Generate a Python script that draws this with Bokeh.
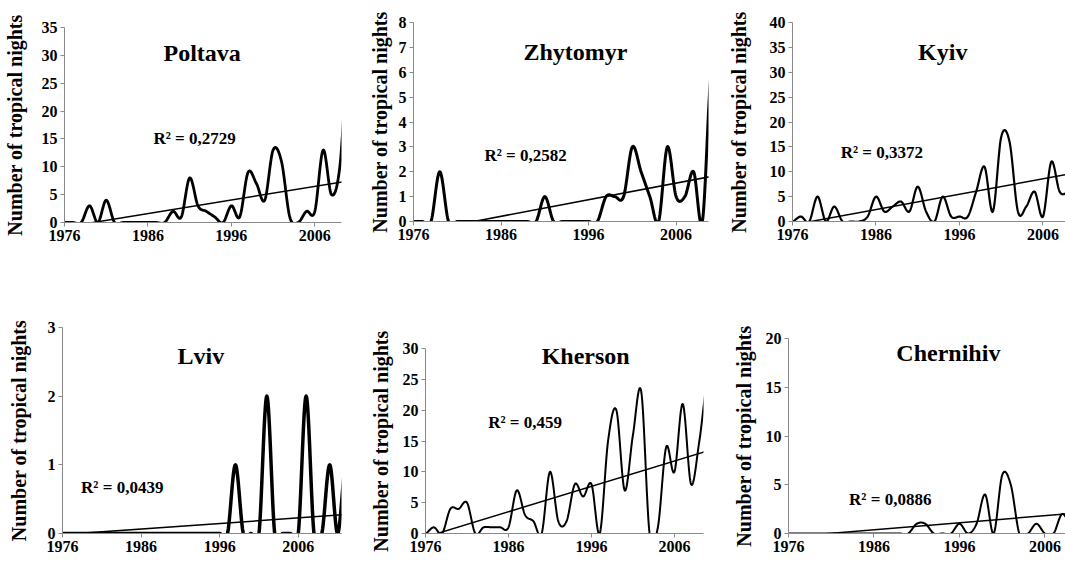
import numpy as np
from bokeh.plotting import figure
from bokeh.layouts import row, column
from bokeh.models import Range1d, FixedTicker, Label
from bokeh.embed import file_html
from bokeh.resources import INLINE

# ---------------- data ----------------
years = list(range(1976, 2011))
years_lviv = list(range(1976, 2013))

poltava = [0, 0, 0, 3, 0, 4, 0, 0, 0, 0, 0, 0, 0, 2, 1, 8, 3, 2, 1, 0,
           3, 1, 9, 7, 4, 13, 11, 1, 0, 2, 2, 13, 5, 10, 30]
zhytomyr = [0, 0, 0, 2, 0, 0, 0, 0, 0, 0, 0, 0, 0, 0, 0, 1, 0, 0, 0, 0,
            0, 0, 1, 1, 1, 3, 2, 1, 0, 3, 1, 1, 2, 0, 6]
kyiv = [0, 1, 0, 5, 0, 3, 0, 0, 0, 1, 5, 2, 3, 4, 2, 7, 2, 0, 5, 1,
        1, 1, 6, 11, 2, 17, 16, 2, 3, 6, 1, 12, 6, 6, 8]
lviv = [0, 0, 0, 0, 0, 0, 0, 0, 0, 0, 0, 0, 0, 0, 0, 0, 0, 0, 0, 0,
        0, 0, 1, 0, 0, 0, 2, 0, 0, 0, 0, 2, 0, 0, 1, 0, 1]
kherson = [0, 1, 0, 4, 4, 5, 0, 1, 1, 1, 1, 7, 3, 2, 0, 10, 2, 2, 8, 6,
           8, 0, 15, 20, 7, 16, 23, 0, 1, 14, 10, 21, 8, 15, 25]
chernihiv = [0, 0, 0, 0, 0, 0, 0, 0, 0, 0, 0, 0, 0, 0, 0, 1, 1, 0, 0, 0,
             1, 0, 1, 4, 0, 6, 5, 0, 0, 1, 0, 0, 2, 1, 2]

# linear trend values at first and last year
trend_poltava = [-0.84, 7.45]
trend_zhytomyr = [-0.46, 1.81]
trend_kyiv = [-0.68, 9.8]
trend_lviv = [-0.016, 0.276]
trend_kherson = [-0.58, 13.4]
trend_chernihiv = [-0.34, 2.12]

r2_labels = ["R\u00b2 = 0,2729", "R\u00b2 = 0,2582", "R\u00b2 = 0,3372",
             "R\u00b2 = 0,0439", "R\u00b2 = 0,459", "R\u00b2 = 0,0886"]
cities = ["Poltava", "Zhytomyr", "Kyiv", "Lviv", "Kherson", "Chernihiv"]
x_ticks = [1976, 1986, 1996, 2006]

FONT = "Liberation Serif"
AXIS_GREY = "#8a8a8a"


def smooth(xs, ys, n=20):
    """Catmull-Rom (Excel style) smoothing for drawing the line."""
    xs = np.asarray(xs, float)
    ys = np.asarray(ys, float)
    N = len(ys)
    m = np.zeros(N)
    m[1:-1] = (ys[2:] - ys[:-2]) / 2.0
    m[0] = (ys[1] - ys[0]) / 2.0
    m[-1] = (ys[-1] - ys[-2]) / 2.0
    t = np.linspace(0, 1, n, endpoint=False)
    h00 = 2 * t**3 - 3 * t**2 + 1
    h10 = t**3 - 2 * t**2 + t
    h01 = -2 * t**3 + 3 * t**2
    h11 = t**3 - t**2
    ox, oy = [], []
    for i in range(N - 1):
        ox.extend(xs[i] + t * (xs[i + 1] - xs[i]))
        oy.extend(h00 * ys[i] + h10 * m[i] + h01 * ys[i + 1] + h11 * m[i + 1])
    ox.append(xs[-1])
    oy.append(ys[-1])
    return ox, oy


def panel(idx, yrs, vals, trend, ymax, ystep, xend, w, h, bl, br, bt, bb,
          title_xy, r2_xy, lw, lab_standoff):
    p = figure(width=w, height=h, output_backend="svg", toolbar_location=None,
               x_range=Range1d(1976, xend), y_range=Range1d(0, ymax),
               min_border_left=bl, min_border_right=br,
               min_border_top=bt, min_border_bottom=bb)
    p.frame_align = False
    p.outline_line_color = None
    p.grid.visible = False
    p.background_fill_color = "white"
    p.border_fill_color = "white"

    for ax in (p.xaxis[0], p.yaxis[0]):
        ax.axis_line_color = AXIS_GREY
        ax.axis_line_width = 1
        ax.major_tick_line_color = AXIS_GREY
        ax.major_tick_out = 4
        ax.major_tick_in = 0
        ax.minor_tick_line_color = None
        ax.major_label_text_font = FONT
        ax.major_label_text_font_style = "bold"
        ax.major_label_text_font_size = "16px"
        ax.major_label_text_color = "black"
        ax.major_label_standoff = 3

    p.xaxis.ticker = FixedTicker(ticks=x_ticks)
    p.yaxis.ticker = FixedTicker(ticks=list(range(0, ymax + 1, ystep)))
    p.yaxis.axis_label = "Number of tropical nights"
    p.yaxis.axis_label_text_font = FONT
    p.yaxis.axis_label_text_font_style = "bold"
    p.yaxis.axis_label_text_font_size = "20px"
    p.yaxis.axis_label_text_color = "black"
    p.yaxis.axis_label_standoff = lab_standoff

    sx, sy = smooth(yrs, vals)
    p.line(sx, sy, line_color="black", line_width=lw, line_join="round")
    p.line([yrs[0], yrs[-1]], trend, line_color="black", line_width=1.5)

    p.add_layout(Label(x=title_xy[0], y=title_xy[1], text=cities[idx],
                       text_font=FONT, text_font_style="bold",
                       text_font_size="24px", text_align="center",
                       text_baseline="middle", text_color="black"))
    p.add_layout(Label(x=r2_xy[0], y=r2_xy[1], text=r2_labels[idx],
                       text_font=FONT, text_font_style="bold",
                       text_font_size="17px", text_align="center",
                       text_baseline="middle", text_color="black"))
    return p


H1, H2 = 294, 267
p1 = panel(0, years, poltava, trend_poltava, 35, 5, 2009.2, 355, H1, 60, 14, 27, 72,
           (1992.5, 30.5), (1991.6, 15.1), 2.8, 13)
p2 = panel(1, years, zhytomyr, trend_zhytomyr, 8, 1, 2009.7, 357, H1, 58, 4, 22, 73,
           (1994.5, 6.8), (1988.8, 2.65), 3.0, 5)
p3 = panel(2, years, kyiv, trend_kyiv, 40, 5, 2008.7, 353, H1, 80, 0, 22, 73,
           (1994.0, 34.0), (1986.7, 13.9), 2.2, 17)
p4 = panel(3, years_lviv, lviv, trend_lviv, 3, 1, 2011.5, 355, H2, 62, 14, 33, 28,
           (1993.6, 2.59), (1983.6, 0.67), 3.5, 15)
p5 = panel(4, years, kherson, trend_kherson, 30, 5, 2009.5, 357, H2, 70, 9, 54, 28,
           (1995.3, 28.8), (1988.0, 18.0), 2.0, 8)
p6 = panel(5, years, chernihiv, trend_chernihiv, 20, 5, 2008.4, 353, H2, 76, 0, 44, 28,
           (1994.7, 18.5), (1987.9, 3.5), 2.0, 8)

layout = column(row(p1, p2, p3), row(p4, p5, p6))
open("out.html", "w").write(file_html(layout, INLINE))
